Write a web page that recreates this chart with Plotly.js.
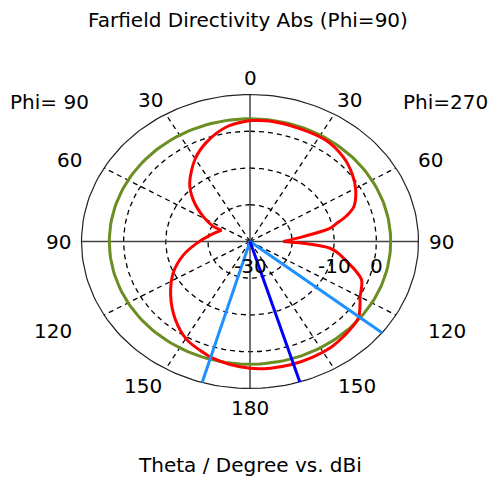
<!DOCTYPE html>
<html><head><meta charset="utf-8">
<script src="https://cdn.plot.ly/plotly-3.0.1.min.js"></script>
<style>html,body{margin:0;padding:0;background:#fff;} #chart{width:496px;height:478px;}</style>
</head><body><div id="chart"></div>
<script>
// ---- Data (plot angle in degrees, clockwise from top; right half = Phi=270, left half = Phi=90) ----
const thetaDeg = [0, 8, 21, 33, 44, 53, 61, 69, 73, 76.5, 79.3, 84, 90, 92.2, 95.5, 99, 103.4, 107.3, 111.6, 120, 129, 139.5, 146, 154.4, 164, 172, 180,
                  188, 195.3, 200, 209.5, 220, 232, 245, 257, 268, 280.5, 294.8, 295.2, 301.4, 310, 318, 330, 339, 350, 360];
const directivityDbi = [2.9, 3.1, 2.9, 2.9, 1.9, 0.4, -1.3, -3.6, -6.0, -8.8, -10.7, -17.3, -22.1, -17.4, -10.9, -8.6, -6.4, -3.9, -1.5, 0.2, 3.1, 4.1, 4.6, 4.8, 4.9, 4.8, 4.5,
                        3.8, 3.0, 2.2, 0.6, -2.4, -6.1, -9.9, -13.8, -17.4, -20.4, -22.6, -20.4, -17.0, -12.4, -8.6, -4.0, -1.1, 1.7, 2.9];
const mainLobeDirectionDeg = 162.8;
const beamEdgeDeg = [128.4, 196.5];
const halfPowerLevelDbi = 3.4;

// ---- Axes ----
const radialMin = -30, radialMax = 10;
const ringValues = [-20, -10, 0];
const radialLabelValues = [-30, -10, 0];
const angularTickValues = [0, 30, 60, 90, 120, 150, 180, 210, 240, 270, 300, 330];
const angularTickText = ['0', '30', '60', '90', '120', '150', '180', '150', '120', '90', '60', '30'];

// ---- Layout constants (pixel frame of the elliptical polar plot) ----
const W = 496, H = 478, CX = 250, CY = 241.5, RX = 168.5, RY = 147;
const labelScaleX = [1, 1.18, 1.237, 1.135, 1.35, 1.27, 1, 1.27, 1.35, 1.135, 1.237, 1.18];
const labelScaleY = [1.112, 1.112, 1.108, 1, 1.218, 1.135, 1.133, 1.135, 1.218, 1, 1.108, 1.112];
const FONT = 'DejaVu Sans, Verdana, sans-serif';

function toXY(deg, db) {
  const rho = Math.max(0, (db - radialMin) / (radialMax - radialMin));
  const a = deg * Math.PI / 180;
  return [rho * Math.sin(a), rho * Math.cos(a)];
}
function curve(degs, dbs) {
  const x = [], y = [];
  degs.forEach((d, i) => { const p = toXY(d, dbs[i]); x.push(p[0]); y.push(p[1]); });
  return {x, y};
}
// pattern split at its nulls so the spline keeps the sharp notch tips
function patternSegments(degs, dbs) {
  const cuts = [];
  for (let i = 1; i < dbs.length - 1; i++) if (dbs[i] < dbs[i - 1] && dbs[i] < dbs[i + 1]) cuts.push(i);
  const bounds = [0, ...cuts, dbs.length - 1];
  const x = [], y = [];
  for (let s = 0; s < bounds.length - 1; s++) {
    const c = curve(degs.slice(bounds[s], bounds[s + 1] + 1), dbs.slice(bounds[s], bounds[s + 1] + 1));
    x.push(...c.x, null); y.push(...c.y, null);
  }
  return {x, y};
}
const circleAngles = Array.from({length: 181}, (_, i) => i * 2);
function rings(values) {
  const x = [], y = [];
  values.forEach(v => {
    const c = curve(circleAngles, circleAngles.map(() => v));
    x.push(...c.x, null); y.push(...c.y, null);
  });
  return {x, y};
}
function spokes(angles) {
  const x = [], y = [];
  angles.forEach(a => {
    const p0 = toXY(a, radialMin), p1 = toXY(a, radialMax);
    x.push(p0[0], p1[0], null); y.push(p0[1], p1[1], null);
  });
  return {x, y};
}

const dashedRings = rings(ringValues);
const dashedSpokes = spokes(angularTickValues.filter(a => a % 90 !== 0));
const axisLines = spokes(angularTickValues.filter(a => a % 90 === 0));
const outerRing = rings([radialMax]);
const hpCircle = rings([halfPowerLevelDbi]);
const pattern = patternSegments(thetaDeg, directivityDbi);
const beamLines = spokes(beamEdgeDeg);
const mainLobe = spokes([mainLobeDirectionDeg]);

const base = {type: 'scatter', mode: 'lines', hoverinfo: 'skip', showlegend: false};
const traces = [
  Object.assign({}, base, dashedRings, {line: {color: '#000', width: 1.3, dash: '5px,4px'}}),
  Object.assign({}, base, dashedSpokes, {line: {color: '#000', width: 1.3, dash: '5px,4px'}}),
  Object.assign({}, base, axisLines, {line: {color: '#444', width: 1.5}}),
  Object.assign({}, base, outerRing, {line: {color: '#222', width: 1.2}}),
  Object.assign({}, base, hpCircle, {line: {color: '#6b8e23', width: 3}}),
  Object.assign({}, base, pattern, {line: {color: '#ff0000', width: 3, shape: 'spline', smoothing: 0.9}}),
  Object.assign({}, base, beamLines, {line: {color: '#1e90ff', width: 3}}),
  Object.assign({}, base, mainLobe, {line: {color: '#0000ff', width: 3}})
];

const textFont = {family: FONT, size: 20, color: '#000'};
const annotations = [];
angularTickValues.forEach((a, i) => {
  const r = a * Math.PI / 180;
  annotations.push({x: labelScaleX[i] * Math.sin(r), y: labelScaleY[i] * Math.cos(r), xref: 'x', yref: 'y',
    text: angularTickText[i], showarrow: false, xanchor: 'center', yanchor: 'middle', font: textFont});
});
radialLabelValues.forEach(v => {
  const p = toXY(90, v);
  annotations.push({x: p[0], y: 0, xref: 'x', yref: 'y', yshift: -24, text: String(v), showarrow: false,
    xanchor: 'center', yanchor: 'middle', font: textFont});
});
annotations.push({x: 8 / W, y: 1 - 102 / H, xref: 'paper', yref: 'paper', text: 'Phi= 90', showarrow: false, xanchor: 'left', yanchor: 'middle', font: textFont});
annotations.push({x: 490 / W, y: 1 - 102 / H, xref: 'paper', yref: 'paper', text: 'Phi=270', showarrow: false, xanchor: 'right', yanchor: 'middle', font: textFont});
annotations.push({x: 250 / W, y: 1 - 465 / H, xref: 'paper', yref: 'paper', text: 'Theta / Degree vs. dBi', showarrow: false, xanchor: 'center', yanchor: 'middle', font: textFont});

const layout = {
  width: W, height: H,
  margin: {l: 0, r: 0, t: 0, b: 0},
  paper_bgcolor: '#fff', plot_bgcolor: '#fff',
  title: {text: 'Farfield Directivity Abs (Phi=90)', font: textFont, x: 248 / W, xanchor: 'center', y: 1 - 20 / H, yanchor: 'middle', xref: 'paper', yref: 'paper'},
  xaxis: {range: [-CX / RX, (W - CX) / RX], visible: false, fixedrange: true},
  yaxis: {range: [-(H - CY) / RY, CY / RY], visible: false, fixedrange: true},
  annotations: annotations
};
Plotly.newPlot('chart', traces, layout, {staticPlot: true, displayModeBar: false});
</script>
</body></html>
